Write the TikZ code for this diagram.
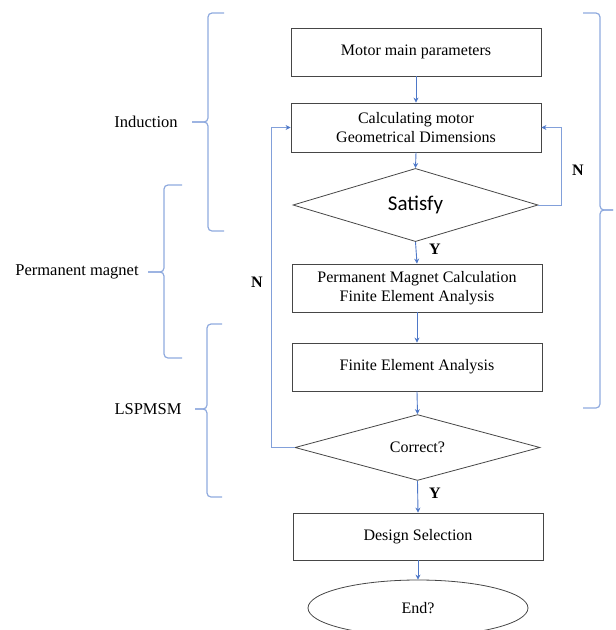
\documentclass[tikz,border=0pt]{standalone}
\usepackage{fontspec}
\setmainfont{Liberation Serif}
\newfontfamily\satfont{Carlito}
\usetikzlibrary{shapes.geometric,arrows.meta}
\definecolor{arrblue}{RGB}{78,120,200}
\definecolor{brcblue}{RGB}{143,170,222}
\definecolor{boxgray}{RGB}{70,70,70}
\newcommand{\mybrace}[6]{%
  \draw[brc] (#1,#4) -- (#2,#4) -- (#2,#5) -- (#3,#5);
  \draw[brc] (#3,#5) -- (#2,#5) -- (#2,#6) -- (#1,#6);}
\begin{document}
\begin{tikzpicture}[x=1pt,y=-1pt,
  every node/.style={font=\fontsize{16}{19}\selectfont},
  boxnode/.style={draw=boxgray,line width=0.8pt,rectangle,minimum width=250pt,minimum height=48pt,inner sep=2pt,align=center},
  decnode/.style={draw=boxgray,line width=0.8pt,diamond,minimum width=245pt,minimum height=64pt,inner sep=0pt},
  endnode/.style={draw=boxgray,line width=0.8pt,ellipse,minimum width=220pt,minimum height=56pt},
  arr/.style={draw=arrblue,line width=0.9pt,-{Stealth[length=5pt,width=5pt]}},
  loopl/.style={draw=brcblue!80!arrblue,line width=1pt,-{Stealth[length=5pt,width=5pt,color=arrblue]}},
  brc/.style={draw=brcblue,line width=1.2pt,rounded corners=4pt},
  lab/.style={font=\fontsize{16.5}{19}\selectfont},
  yn/.style={font=\fontsize{16}{19}\selectfont\bfseries}]
\useasboundingbox (0,0) rectangle (616,630);
% nodes
\node[boxnode] (m1) at (416,52) {Motor main parameters};
\node[boxnode,minimum height=49pt] (calc) at (416,127.5) {Calculating motor\\Geometrical Dimensions};
\node[decnode] (sat) at (415.5,205) {\satfont\fontsize{21}{24}\selectfont Satisfy};
\node[boxnode] (pm) at (417,288) {Permanent Magnet Calculation\\Finite Element Analysis};
\node[boxnode] (fea) at (417,367) {Finite Element Analysis};
\node[decnode,minimum height=63pt] (cor) at (417.5,447.5) {Correct?};
\node[boxnode,minimum height=47pt] (ds) at (418,536.5) {Design Selection};
\node[endnode] (end) at (418,608) {End?};
% vertical connectors
\draw[arr] (m1.south) -- (calc.north);
\draw[arr] (calc.south) -- (sat.north);
\draw[arr] (sat.south) -- (pm.north);
\draw[arr] (pm.south) -- (fea.north);
\draw[arr] (fea.south) -- (cor.north);
\draw[arr] (cor.south) -- (ds.north);
\draw[arr] (ds.south) -- (end.north);
% loops
\coordinate (rloop) at (561,205);
\coordinate (lloop) at (271,447.5);
\draw[loopl] (sat.east) -- (rloop) |- (calc.east);
\draw[loopl] (cor.west) -- (lloop) |- (calc.west);
% Y / N labels
\node[yn] (y1) at (435,249) {Y};
\node[yn] (y2) at (435,493) {Y};
\node[yn] (n1) at (578,170) {N};
\node[yn] (n2) at (257,282) {N};
% braces
\mybrace{224}{208}{192}{13}{122}{231}
\mybrace{182}{164}{148}{185}{272}{358}
\mybrace{222}{207}{195}{324}{409}{497}
\mybrace{583}{600}{613}{13}{210}{408}
\node[lab] (ind) at (146,122) {Induction};
\node[lab] (pmag) at (77,272) {Permanent magnet};
\node[lab] (lsp) at (148,409) {LSPMSM};
\end{tikzpicture}
\end{document}
